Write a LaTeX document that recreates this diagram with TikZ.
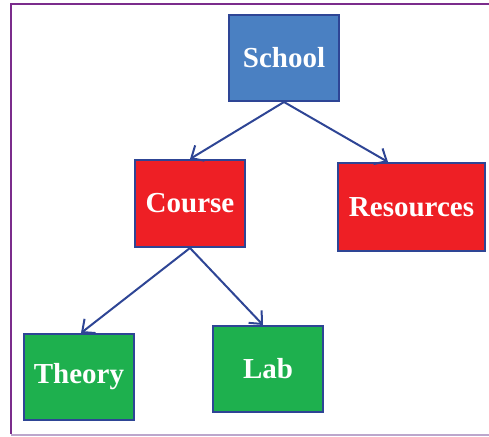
\documentclass[tikz,border=0pt]{standalone}
\usepackage{fontspec}
\setmainfont{Liberation Serif}
\usetikzlibrary{positioning,arrows.meta,calc}
\definecolor{frame}{HTML}{7B2C8C}
\definecolor{framelt}{HTML}{BCA6CC}
\definecolor{edge}{HTML}{2E4595}
\definecolor{blue}{HTML}{4A80C2}
\definecolor{red}{HTML}{EE1F25}
\definecolor{green}{HTML}{1EB04E}

\begin{document}
\begin{tikzpicture}[x=1pt,y=-1pt,
  box/.style={draw=edge,line width=2pt,text=white,font=\fontsize{29}{34}\selectfont\bfseries,minimum width=110pt,minimum height=86pt,inner sep=0pt},
  link/.style={edge,line width=2pt,-{Straight Barb[length=10pt,width=18pt,line width=2pt]}}]
\useasboundingbox (0,0) rectangle (489,436);
% frame
\draw[frame,line width=2.5pt] (489,4)--(11,4)--(11,434);
\draw[framelt,line width=2pt] (11,434.5)--(489,434.5);
% boxes
\node[box,fill=blue] (school) at (284,58){School};
\node[box,fill=red,minimum height=87pt] (course) at (190,203.5){Course};
\node[box,fill=red,minimum width=147pt,minimum height=88pt] (res) at (411.5,207){Resources};
\node[box,fill=green] (theory) at (79,377){Theory};
\node[box,fill=green] (lab) at (268,369){Lab};
% links
\draw[link] (school.south)--(course.north);
\draw[link] (school.south)--([xshift=-23.5pt]res.north);
\draw[link] (course.south)--([xshift=2pt]theory.north);
\draw[link] (course.south)--([xshift=-5pt]lab.north);
\end{tikzpicture}
\end{document}
